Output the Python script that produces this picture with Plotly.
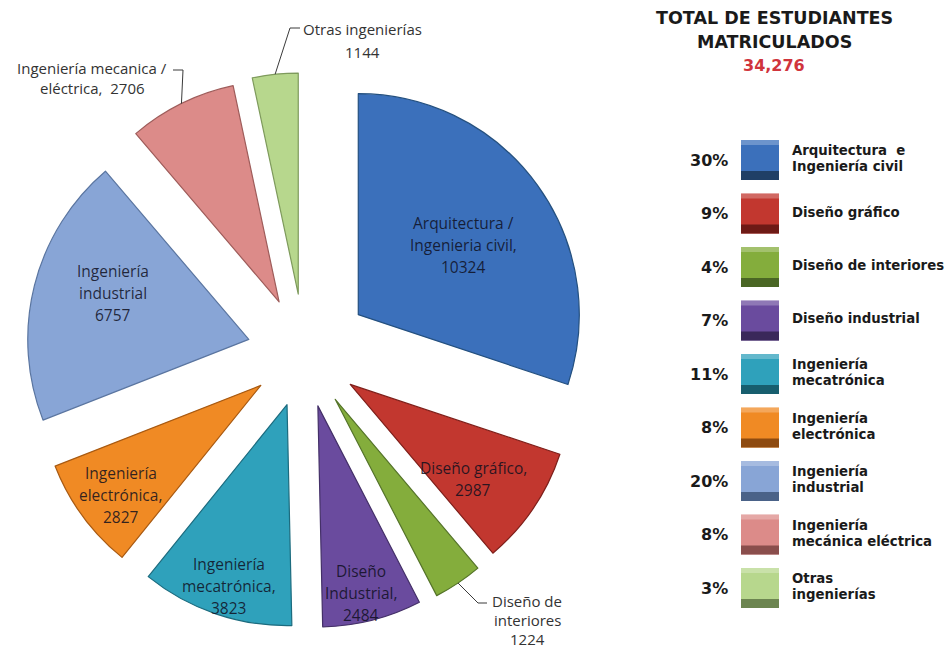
import math
import plotly.graph_objects as go

# ---- data -------------------------------------------------------------
categories = [
    "Arquitectura / Ingeniería civil",
    "Diseño gráfico",
    "Diseño de interiores",
    "Diseño industrial",
    "Ingeniería mecatrónica",
    "Ingeniería electrónica",
    "Ingeniería industrial",
    "Ingeniería mecánica / eléctrica",
    "Otras ingenierías",
]
students = [10324, 2987, 1224, 2484, 3823, 2827, 6757, 2706, 1144]

# text drawn on / next to each slice ({v} is replaced by the value)
slice_text = [
    "Arquitectura /\nIngenieria civil,\n{v}",
    "Diseño gráfico,\n{v}",
    "Diseño de\ninteriores\n{v}",
    "Diseño\nIndustrial,\n{v}",
    "Ingeniería\nmecatrónica,\n{v}",
    "Ingeniería\nelectrónica,\n{v}",
    "Ingeniería\nindustrial\n{v}",
    "Ingeniería mecanica /\neléctrica,  {v}",
    "Otras ingenierías\n{v}",
]

# names in the side key
key_text = [
    "Arquitectura  e\nIngeniería civil",
    "Diseño gráfico",
    "Diseño de interiores",
    "Diseño industrial",
    "Ingeniería\nmecatrónica",
    "Ingeniería\nelectrónica",
    "Ingeniería\nindustrial",
    "Ingeniería\nmecánica eléctrica",
    "Otras\ningenierías",
]

# ---- styling ----------------------------------------------------------
colors = ["#3b70bb", "#c2372f", "#84ad3c", "#6a4b9e", "#2fa1bb",
          "#f08a24", "#88a5d6", "#dc8b89", "#b7d78d"]
edges = ["#24507f", "#7e1f1a", "#55742a", "#443068", "#1c6b7e",
         "#a85a12", "#5a75a0", "#9e5c5a", "#7e9a5c"]
key_dark = ["#1f3f66", "#6e1a16", "#4a6624", "#3a285a", "#175e6e",
            "#8e4b10", "#4a6288", "#8a4e4c", "#6c8550"]
pulls = [0.30, 0.25, 0.25, 0.245, 0.245, 0.245, 0.26, 0.26, 0.27]

W, H = 948, 652
CX, CY, R = 304.5, 353.4, 221.0          # pie centre and radius, px
LABEL_FONT = "Open Sans"
KEY_FONT = "DejaVu Sans"

# radial placement of the inside labels (fraction of radius) and small angular nudges
inside_r = [0.57, 0.70, None, 0.87, 0.86, 0.805, 0.65, None, None]
inside_dang = [1.4, 2.5, 0, 1.0, -0.8, -1.4, 3.4, 0, 0]

# outside labels: leader elbow, leader end, text centre (px)
outside = {
    7: dict(elbow=(183, 70), end=(173, 70), text=(92, 78), gap=20),
    8: dict(elbow=(290, 28), end=(300, 28), text=(362, 40), gap=23),
    2: dict(elbow=(478, 603), end=(487, 603), text=(527, 620), gap=19),
}


def px(x, y):
    return x / W, 1 - y / H


total = sum(students)
max_pull = max(pulls)
side = 2 * R * (1 + max_pull)
dom_x = [(CX - side / 2) / W, (CX + side / 2) / W]
dom_y = [(H - CY - side / 2) / H, (H - CY + side / 2) / H]

fig = go.Figure(go.Pie(
    labels=categories,
    values=students,
    sort=False,
    direction="clockwise",
    rotation=0,
    pull=pulls,
    marker=dict(colors=colors, line=dict(color=edges, width=1.2)),
    textinfo="none",
    hoverinfo="label+value+percent",
    domain=dict(x=dom_x, y=dom_y),
    showlegend=False,
))

annotations = []
shapes = []


def text_block(lines, cx, cy, gap, font, size, color, xanchor="center"):
    n = len(lines)
    for i, line in enumerate(lines):
        y = cy + (i - (n - 1) / 2) * gap
        x0, y0 = px(cx, y)
        annotations.append(dict(
            x=x0, y=y0, xref="paper", yref="paper", text=line,
            showarrow=False, xanchor=xanchor, yanchor="middle",
            font=dict(family=font, size=size, color=color),
        ))


# slice angles (clockwise from 12 o'clock)
cum = 0
for i, v in enumerate(students):
    a0 = cum / total * 360
    cum += v
    a1 = cum / total * 360
    mid = (a0 + a1) / 2
    lines = slice_text[i].format(v=v).split("\n")
    if inside_r[i] is not None:
        ang = math.radians(mid + inside_dang[i])
        dist = (pulls[i] + inside_r[i]) * R
        lx = CX + dist * math.sin(ang)
        ly = CY - dist * math.cos(ang)
        text_block(lines, lx, ly, 22, LABEL_FONT, 15.5, "rgba(15,15,30,0.85)")
    else:
        o = outside[i]
        ang = math.radians(mid)
        dist = (pulls[i] + 1) * R
        sx = CX + dist * math.sin(ang)
        sy = CY - dist * math.cos(ang)
        pts = [px(sx, sy), px(*o["elbow"]), px(*o["end"])]
        path = "M {} {} L {} {} L {} {}".format(
            pts[0][0], pts[0][1], pts[1][0], pts[1][1], pts[2][0], pts[2][1])
        shapes.append(dict(type="path", path=path, xref="paper", yref="paper",
                           line=dict(color="#3a3a3a", width=1)))
        text_block(lines, o["text"][0], o["text"][1], o["gap"], LABEL_FONT,
                   15, "#333333")

# ---- side key ---------------------------------------------------------
text_block(["<b>TOTAL DE ESTUDIANTES</b>", "<b>MATRICULADOS</b>"],
           774.5, 29.75, 24.5, KEY_FONT, 17.5, "#1a1a1a")
text_block(["<b>{:,}</b>".format(total)], 774, 66, 20, KEY_FONT, 16, "#d0343c")

ROW0, STEP = 160, 53.5
BX0, BX1, BH = 741, 779, 40
for i, v in enumerate(students):
    cy = ROW0 + i * STEP
    pct = round(v / total * 100)
    text_block(["<b>{}%</b>".format(pct)], 730, cy, 20, KEY_FONT, 16,
               "#1a1a1a", xanchor="right")
    # swatch: body, darker base band, light top rim
    x0, y_top = px(BX0, cy - BH / 2)
    x1, y_bot = px(BX1, cy + BH / 2)
    shapes.append(dict(type="rect", xref="paper", yref="paper",
                       x0=x0, x1=x1, y0=y_bot, y1=y_top,
                       fillcolor=colors[i], line=dict(width=0)))
    _, yb = px(0, cy + BH / 2 - 9)
    shapes.append(dict(type="rect", xref="paper", yref="paper",
                       x0=x0, x1=x1, y0=y_bot, y1=yb,
                       fillcolor=key_dark[i], line=dict(width=0)))
    _, yt = px(0, cy - BH / 2 + 5)
    shapes.append(dict(type="rect", xref="paper", yref="paper",
                       x0=x0, x1=x1, y0=yt, y1=y_top,
                       fillcolor="rgba(255,255,255,0.25)", line=dict(width=0)))
    klines = ["<b>{}</b>".format(s) for s in key_text[i].split("\n")]
    text_block(klines, 790, cy - 1.5, 16, KEY_FONT, 13.3, "#1a1a1a",
               xanchor="left")

fig.update_layout(
    width=W, height=H, autosize=False,
    margin=dict(l=0, r=0, t=0, b=0),
    paper_bgcolor="white", plot_bgcolor="white",
    annotations=annotations, shapes=shapes,
)

fig.write_html("out.html")
